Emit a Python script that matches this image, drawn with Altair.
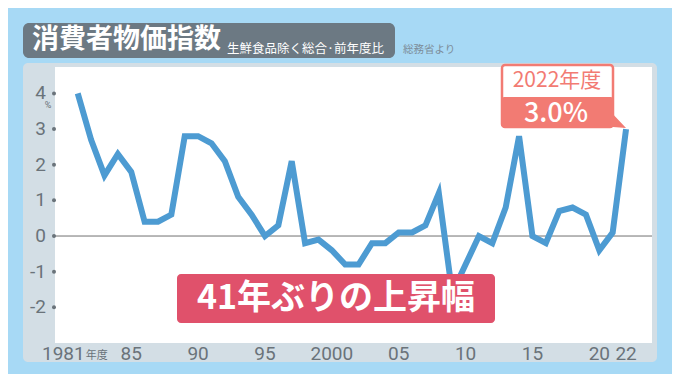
import altair as alt
import pandas as pd

# ---- data ----
years = list(range(1981, 2023))
values = [4.0, 2.7, 1.7, 2.3, 1.8, 0.4, 0.4, 0.6, 2.8, 2.8,
          2.6, 2.1, 1.1, 0.6, 0.0, 0.3, 2.1, -0.2, -0.1, -0.4,
          -0.8, -0.8, -0.2, -0.2, 0.1, 0.1, 0.3, 1.2, -1.6, -0.8,
          0.0, -0.2, 0.8, 2.8, 0.0, -0.2, 0.7, 0.8, 0.6, -0.4,
          0.1, 3.0]
y_ticks = [4, 3, 2, 1, 0, -1, -2]
y_tick_labels = ["4", "3", "2", "1", "0", "-1", "-2"]
x_tick_years = [1985, 1990, 1995, 2000, 2005, 2010, 2015, 2020, 2022]
x_tick_labels = ["85", "90", "95", "2000", "05", "10", "15", "20", "22"]
first_year = [1981]
first_label = ["1981"]

W, H = 597, 276
BG = "#a7d9f5"
PANEL = "#d3dee5"
TITLEBOX = "#6c7983"
LINE = "#4d9bd2"
AXIS_TXT = "#6a737a"
SALMON = "#f27b73"
CRIMSON = "#e0516b"
NUMFONT = "Liberation Sans Narrow, Roboto, Noto Sans"
JPFONT = "Noto Sans CJK JP"

xscale = alt.Scale(domain=[1979.3, 2023.94], nice=False, zero=False)
yscale = alt.Scale(domain=[-3.0, 4.74], nice=False, zero=False)

df = pd.DataFrame({"year": years, "value": values})
ydf = pd.DataFrame({"v": y_ticks, "lab": y_tick_labels})
xdf = pd.DataFrame({"year": x_tick_years, "lab": x_tick_labels})
fdf = pd.DataFrame({"year": first_year, "lab": first_label})
one = pd.DataFrame({"a": [0]})


def box(x1, x2, y1, y2, **kw):
    return alt.Chart(one).mark_rect(**kw).encode(
        x=alt.value(x1), x2=alt.value(x2), y=alt.value(y1), y2=alt.value(y2))


def label(txt, x, y, **kw):
    return alt.Chart(one).mark_text(text=txt, **kw).encode(
        x=alt.value(x), y=alt.value(y))


panel = box(-32, 602, -4, 295, color=PANEL, cornerRadius=5)
white = box(0, W, 0, H, color="white")
title_box = box(-32, 340, -44, -9, color=TITLEBOX, cornerRadius=6)
title = label("消費者物価指数", -23, -27, font=JPFONT, fontSize=27,
              fontWeight="bold", color="white", align="left", baseline="middle")
subtitle = label("生鮮食品除く総合·前年度比", 172, -18, font=JPFONT, fontSize=12.5,
                 color="white", align="left", baseline="middle")
source = label("総務省より", 348, -17, font=JPFONT, fontSize=10.5,
               color="#7d8d99", align="left", baseline="middle")

zero = alt.Chart(pd.DataFrame({"z": [0]})).mark_rule(
    color="#707070", strokeWidth=1).encode(
    y=alt.Y("z:Q", scale=yscale, axis=None))

ydots = alt.Chart(ydf).mark_circle(size=16, color=AXIS_TXT, opacity=1).encode(
    x=alt.value(-1), y=alt.Y("v:Q", scale=yscale, axis=None))
ylabels = alt.Chart(ydf).mark_text(
    font=NUMFONT, fontSize=19, color=AXIS_TXT, align="right",
    baseline="middle").encode(
    x=alt.value(-9), y=alt.Y("v:Q", scale=yscale, axis=None), text="lab:N")
pct = label("%", -7, 38, font=NUMFONT, fontSize=9, color=AXIS_TXT)

xlabels = alt.Chart(xdf).mark_text(
    font=NUMFONT, fontSize=19, color=AXIS_TXT, align="center",
    baseline="middle").encode(
    x=alt.X("year:Q", scale=xscale, axis=None), y=alt.value(287), text="lab:N")
flabel = alt.Chart(fdf).mark_text(
    font=NUMFONT, fontSize=19, color=AXIS_TXT, align="right",
    baseline="middle", dx=7).encode(
    x=alt.X("year:Q", scale=xscale, axis=None), y=alt.value(287), text="lab:N")
fnendo = alt.Chart(fdf).mark_text(
    text="年度", font=JPFONT, fontSize=11, color=AXIS_TXT, align="left",
    baseline="middle", dx=8).encode(
    x=alt.X("year:Q", scale=xscale, axis=None), y=alt.value(289))

line = alt.Chart(df).mark_line(color=LINE, strokeWidth=6).encode(
    x=alt.X("year:Q", scale=xscale, axis=None),
    y=alt.Y("value:Q", scale=yscale, axis=None))

# bottom annotation
ann_box = box(122, 440, 207, 256, color=CRIMSON, cornerRadius=4)
ann_txt = label("41年ぶりの上昇幅", 281, 232, font=JPFONT, fontSize=34,
                fontWeight="bold", color="white", align="center", baseline="middle")

# 2022 callout
co_outer = box(447, 558, -2, 60, fill="white", stroke=SALMON, strokeWidth=2.5,
               cornerRadius=3)
co_lower = box(447, 558, 30, 60, color=SALMON, cornerRadius=2)
co_tail = alt.Chart(one).mark_point(
    shape="M-0.15,0 L0.93,1.14 L0,1.07 L-0.15,1.07 Z", filled=True,
    size=784, color=SALMON, opacity=1).encode(x=alt.value(558), y=alt.value(45))
co_year = label("2022年度", 502, 14, font=JPFONT, fontSize=21, color=SALMON,
                align="center", baseline="middle")
co_val = label("3.0%", 501, 47, font=JPFONT, fontSize=27, fontWeight=500,
               color="white", align="center", baseline="middle")

chart = alt.layer(
    panel, white, title_box, title, subtitle, source,
    zero, ydots, ylabels, pct, xlabels, flabel, fnendo,
    line, ann_box, ann_txt, co_outer, co_lower, co_tail, co_year, co_val,
).properties(
    width=W, height=H,
    autosize=alt.AutoSizeParams(type="none"),
    padding={"left": 47, "top": 59, "right": 20, "bottom": 31},
    background=BG,
).configure_view(strokeWidth=0)

chart.save("out.html", embed_options={"renderer": "svg", "actions": False})
